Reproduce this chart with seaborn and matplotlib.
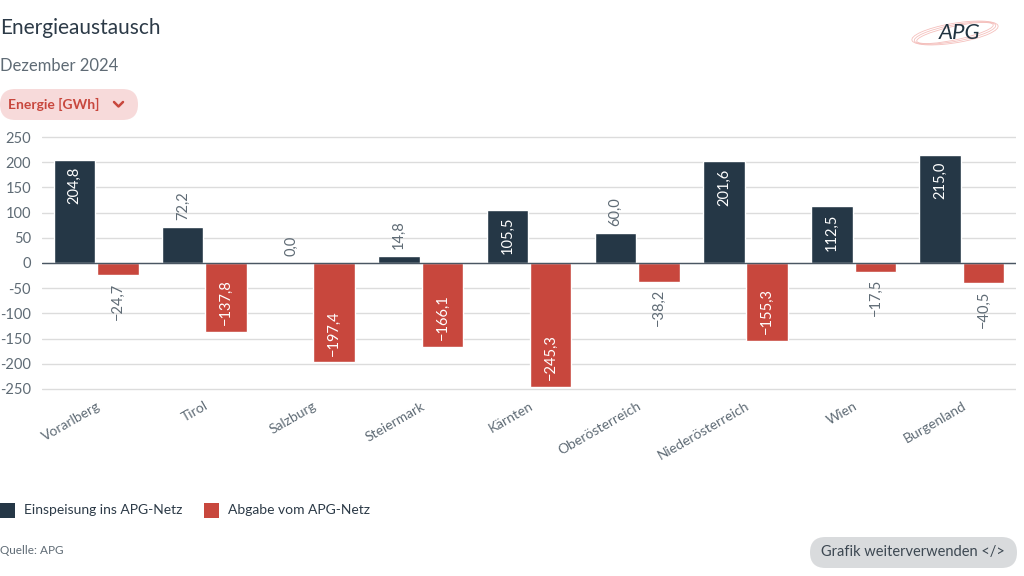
import numpy as np
import pandas as pd
import seaborn as sns
import matplotlib.pyplot as plt
from matplotlib.patches import FancyBboxPatch, Ellipse
from matplotlib.lines import Line2D

# Daten: Energieaustausch Dezember 2024 (GWh)
regionen = ['Vorarlberg', 'Tirol', 'Salzburg', 'Steiermark', 'Kärnten',
            'Oberösterreich', 'Niederösterreich', 'Wien', 'Burgenland']
einspeisung = [204.8, 72.2, 0.0, 14.8, 105.5, 60.0, 201.6, 112.5, 215.0]
abgabe = [-24.7, -137.8, -197.4, -166.1, -245.3, -38.2, -155.3, -17.5, -40.5]
serien = ['Einspeisung ins APG-Netz', 'Abgabe vom APG-Netz']
yticks = [-250, -200, -150, -100, -50, 0, 50, 100, 150, 200, 250]

dunkel = '#253746'
rot = '#c8473d'
grau = '#5f6b75'

df = pd.DataFrame({
    'Region': regionen * 2,
    'Wert': einspeisung + abgabe,
    'Serie': [serien[0]] * len(regionen) + [serien[1]] * len(regionen),
})

sns.set_theme(style='white')
plt.rcParams['font.family'] = ['Lato', 'DejaVu Sans']
plt.rcParams['axes.unicode_minus'] = False

W, H = 1024, 576
fig = plt.figure(figsize=(W / 100, H / 100), dpi=100)
ax = fig.add_axes([42 / W, 1 - 391.5 / H, 974 / W, 257 / H])

sns.barplot(data=df, x='Region', y='Wert', hue='Serie', palette=[dunkel, rot],
            width=0.8, gap=0.04, legend=False, ax=ax, saturation=1)

ax.set_ylim(-255, 255)
ax.set_xlim(-0.5, len(regionen) - 0.5)
ax.set_yticks(yticks)
ax.set_yticklabels([str(t) for t in yticks])
ax.yaxis.grid(True, color='#dcdcdc', linewidth=1)
ax.set_axisbelow(True)
ax.axhline(0, color='#4a5663', linewidth=1, zorder=3)
for s in ax.spines.values():
    s.set_visible(False)
ax.set_xlabel('')
ax.set_ylabel('')
ax.tick_params(axis='y', length=0, pad=8, labelsize=10.5, labelcolor=grau)
ax.tick_params(axis='x', length=0, pad=6, labelsize=10, labelcolor=grau)
for lab in ax.get_xticklabels():
    lab.set_rotation(30)
    lab.set_ha('right')
    lab.set_rotation_mode('anchor')

# Datenbeschriftungen
for cont in ax.containers:
    for bar in cont:
        v = bar.get_height()
        x = bar.get_x() + bar.get_width() / 2
        txt = f'{abs(v):.1f}'.replace('.', ',')
        if v < 0:
            txt = '\u2212' + txt
        inside = abs(v) > 100
        if v >= 0:
            if inside:
                off, va, col = -5, 'top', 'white'
            else:
                off, va, col = 5, 'bottom', grau
        else:
            if inside:
                off, va, col = 5, 'bottom', 'white'
            else:
                off, va, col = -5, 'top', grau
        ax.annotate(txt, (x, v), xytext=(0, off), textcoords='offset points',
                    rotation=90, ha='center', va=va, color=col, fontsize=10.5,
                    zorder=4)


def fx(px):
    return px / W


def fy(py):
    return 1 - py / H


def pille(x0, y0, w, h, farbe):
    # abgerundetes Rechteck in Pixelkoordinaten (y0 = Oberkante)
    fig.patches.append(FancyBboxPatch((fx(x0), fy(y0 + h)), fx(w), h / H,
                                      boxstyle=f'round,pad=0,rounding_size={fx(h / 2)}',
                                      mutation_aspect=W / H,
                                      transform=fig.transFigure, fc=farbe, ec='none'))


# Titel
fig.text(fx(0), fy(28), 'Energieaustausch', fontsize=15, color='#2c3a47',
         va='center', ha='left')
fig.text(fx(0), fy(66), 'Dezember 2024', fontsize=12, color=grau,
         va='center', ha='left')

# Auswahl-Pille
pille(0, 89, 138, 31, '#f7dada')
fig.text(fx(8), fy(104), 'Energie [GWh]', fontsize=10, color=rot,
         va='center', ha='left', fontweight='bold')
fig.lines.append(Line2D([fx(114), fx(118.5), fx(123)], [fy(102), fy(106.5), fy(102)],
                        transform=fig.transFigure, color=rot, linewidth=1.8))

# Logo
for w, h, a in [(86, 16, 20), (82, 13, 22), (90, 19, 18)]:
    fig.patches.append(Ellipse((fx(955), fy(33)), fx(w), h / H, angle=a,
                               transform=fig.transFigure, fill=False,
                               ec='#f2b0ac', lw=0.6, alpha=0.8))
fig.text(fx(960), fy(33), 'APG', fontsize=16, color='#1f3340', ha='center',
         va='center', fontstyle='italic')

# Legende
for px, col, lab in [(0, dunkel, serien[0]), (204, rot, serien[1])]:
    fig.patches.append(FancyBboxPatch((fx(px), fy(518)), fx(15), 15 / H,
                                      boxstyle='square,pad=0',
                                      transform=fig.transFigure, fc=col, ec='none'))
    fig.text(fx(px + 24), fy(510), lab, fontsize=10, color='#2c3a47',
             va='center', ha='left')

# Quelle
fig.text(fx(0), fy(551), 'Quelle: APG', fontsize=8.5, color=grau,
         va='center', ha='left')

# Button
pille(810, 537, 207, 31, '#d9dbdd')
fig.text(fx(913), fy(552), 'Grafik weiterverwenden </>', fontsize=10.5,
         color='#3d4852', va='center', ha='center')

fig.savefig('out.png', dpi=100, facecolor='white')
